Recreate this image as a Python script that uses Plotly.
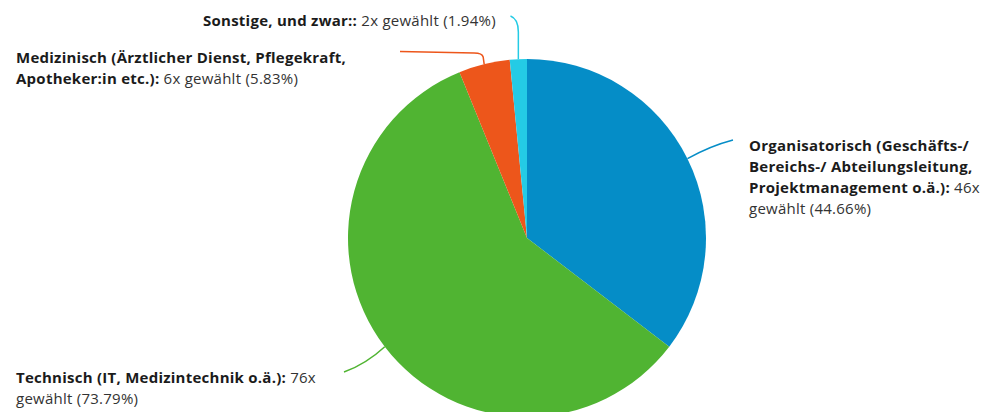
import math
import plotly.graph_objects as go

categories = [
    "Organisatorisch (Geschäfts-/ Bereichs-/ Abteilungsleitung, Projektmanagement o.ä.)",
    "Technisch (IT, Medizintechnik o.ä.)",
    "Medizinisch (Ärztlicher Dienst, Pflegekraft, Apotheker:in etc.)",
    "Sonstige, und zwar:",
]
counts = [46, 76, 6, 2]
percents = ["44.66", "73.79", "5.83", "1.94"]
colors = ["#058DC7", "#50B432", "#ED561B", "#24CBE5"]

W, H = 988, 420
CX, CY, R = 527, 238, 179

def px(x):
    return x / W

def py(y):
    return 1 - y / H

fig = go.Figure(go.Pie(
    labels=categories,
    values=counts,
    sort=False,
    direction="clockwise",
    rotation=0,
    marker=dict(colors=colors, line=dict(width=0)),
    textinfo="none",
    hoverinfo="label+value",
    domain=dict(x=[px(CX - R), px(CX + R)], y=[py(CY + R), py(CY - R)]),
    showlegend=False,
))

# slice midpoints on the circle, from the data
total = sum(counts)
mids = []
acc = 0
for c in counts:
    a = (acc + c / 2) / total * 2 * math.pi
    mids.append((CX + R * math.sin(a), CY - R * math.cos(a)))
    acc += c

def P(x, y):
    return f"{px(x):.5f},{py(y):.5f}"

# leader lines
(bx, by), (gx, gy), (ox, oy), (sx, sy) = mids
paths = [
    (f"M {P(bx, by)} Q {P(710, 146)} {P(733, 140)}", colors[0]),
    (f"M {P(gx, gy)} Q {P(366, 364)} {P(344, 372)}", colors[1]),
    (f"M {P(ox, oy)} L {P(ox - 1, 57)} Q {P(ox - 2, 53)} {P(ox - 10, 53)} L {P(400, 51.5)}", colors[2]),
    (f"M {P(sx, sy)} L {P(sx, 32)} Q {P(sx, 19)} {P(510.5, 16)}", colors[3]),
]
shapes = [dict(type="path", xref="paper", yref="paper", path=p,
               line=dict(color=c, width=1.5)) for p, c in paths]

FONT = "Open Sans"
LS = "letter-spacing:0.25px"
def bold(t):
    return f"<b><span style='color:#1b1b1b;{LS}'>{t}</span></b>"

def norm(t):
    return f"<span style='color:#333333;{LS}'>{t}</span>"

lines = [
    # (text, x, y, xanchor)
    (bold(categories[3] + ":") + norm(" " + f"{counts[3]}x gewählt ({percents[3]}%)"), 498, 20, "right"),
    (bold("Medizinisch (Ärztlicher Dienst, Pflegekraft,"), 14, 57, "left"),
    (bold("Apotheker:in etc.):") + norm(" " + f"{counts[2]}x gewählt ({percents[2]}%)"), 14, 78, "left"),
    (bold("Organisatorisch (Geschäfts-/"), 747, 145, "left"),
    (bold("Bereichs-/ Abteilungsleitung,"), 747, 166, "left"),
    (bold("Projektmanagement o.ä.):") + norm(" " + f"{counts[0]}x"), 747, 187, "left"),
    (norm(f"gewählt ({percents[0]}%)"), 747, 208, "left"),
    (bold(categories[1] + ":") + norm(" " + f"{counts[1]}x"), 14, 377, "left"),
    (norm(f"gewählt ({percents[1]}%)"), 14, 398, "left"),
]
annotations = [dict(text=t, x=px(x), y=py(y), xref="paper", yref="paper",
                    xanchor=xa, yanchor="middle", showarrow=False,
                    font=dict(family=FONT, size=15, color="#333333"))
               for t, x, y, xa in lines]

fig.update_layout(
    width=W, height=H,
    margin=dict(l=0, r=0, t=0, b=0),
    paper_bgcolor="white",
    plot_bgcolor="white",
    shapes=shapes,
    annotations=annotations,
)

fig.write_html("out.html", config=dict(displayModeBar=False),
               post_script="document.body.style.margin='0';document.body.style.overflow='hidden';document.documentElement.style.overflow='hidden';")
